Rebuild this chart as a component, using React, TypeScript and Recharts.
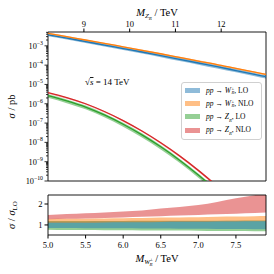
import React from 'react';
import { ComposedChart, Line, Area, XAxis, YAxis, ReferenceArea, Legend } from 'recharts';

// W_R mass grid (TeV)
const MW = [5.0, 5.25, 5.5, 5.75, 6.0, 6.25, 6.5, 6.75, 7.0, 7.25, 7.5, 7.75, 7.9];

// cross sections in pb
const W_LO = [3.72e-3, 2.51e-3, 1.66e-3, 1.1e-3, 7.24e-4, 4.79e-4, 3.09e-4, 2.0e-4, 1.29e-4, 8.32e-5, 5.25e-5, 3.31e-5, 2.51e-5];
const W_NLO = [4.47e-3, 3.02e-3, 2.0e-3, 1.35e-3, 8.91e-4, 5.89e-4, 3.89e-4, 2.51e-4, 1.62e-4, 1.07e-4, 6.76e-5, 4.37e-5, 3.31e-5];
const Z_LO = [2.63e-6, 1.41e-6, 6.76e-7, 2.63e-7, 8.71e-8, 2.45e-8, 5.89e-9, 1.2e-9, 2.04e-10, 3.02e-11, null, null, null];
const Z_NLO = [3.8e-6, 2.09e-6, 1.0e-6, 3.98e-7, 1.35e-7, 3.89e-8, 9.55e-9, 2.0e-9, 3.55e-10, 5.37e-11, null, null, null];

// uncertainty bands, relative to the LO central value
const W_LO_LOW = [0.85, 0.85, 0.84, 0.84, 0.84, 0.83, 0.83, 0.82, 0.82, 0.81, 0.81, 0.8, 0.8];
const W_LO_HIGH = [1.17, 1.17, 1.17, 1.18, 1.18, 1.18, 1.18, 1.19, 1.19, 1.19, 1.2, 1.2, 1.2];
const W_NLO_LOW = [1.1, 1.11, 1.11, 1.12, 1.13, 1.13, 1.14, 1.15, 1.15, 1.16, 1.17, 1.18, 1.18];
const W_NLO_HIGH = [1.28, 1.29, 1.3, 1.31, 1.32, 1.33, 1.35, 1.36, 1.37, 1.39, 1.4, 1.42, 1.43];
const Z_LO_LOW = [0.77, 0.76, 0.76, 0.75, 0.75, 0.74, 0.73, 0.73, 0.72, 0.71, 0.71, 0.7, 0.7];
const Z_LO_HIGH = [1.19, 1.19, 1.19, 1.19, 1.19, 1.2, 1.2, 1.2, 1.2, 1.2, 1.2, 1.21, 1.21];
const Z_NLO_LOW = [1.27, 1.29, 1.31, 1.33, 1.36, 1.39, 1.42, 1.45, 1.48, 1.51, 1.54, 1.57, 1.59];
const Z_NLO_HIGH = [1.48, 1.52, 1.56, 1.6, 1.64, 1.69, 1.78, 1.86, 1.95, 2.1, 2.28, 2.42, 2.55];

const MW_TICKS = [5.0, 5.5, 6.0, 6.5, 7.0, 7.5];
const MZ_TICKS = [9, 10, 11, 12];
const MZ_PER_MW = 1.643;
const RATIO_TICKS = [1, 2];
const DECADES = [-10, -9, -8, -7, -6, -5, -4, -3];

const X_DOMAIN = [5.0, 7.9];
const Y_DOMAIN = [1e-10, 5.2e-3];
const R_DOMAIN = [0.52, 2.43];

const BLUE = '#1f77b4';
const ORANGE = '#ff7f0e';
const GREEN = '#2ca02c';
const RED = '#d62728';
const FONT = '"Liberation Serif", "DejaVu Serif", serif';

const band = (c: number | null, lo: number, hi: number) => (c == null ? null : [c * lo, c * hi]);

const rows = MW.map((mw, i) => ({
  mw,
  wLo: W_LO[i],
  wNlo: W_NLO[i],
  zLo: Z_LO[i],
  zNlo: Z_NLO[i],
  wLoBand: band(W_LO[i], W_LO_LOW[i], W_LO_HIGH[i]),
  wNloBand: band(W_LO[i], W_NLO_LOW[i], W_NLO_HIGH[i]),
  zLoBand: band(Z_LO[i], Z_LO_LOW[i], Z_LO_HIGH[i]),
  zNloBand: band(Z_LO[i], Z_NLO_LOW[i], Z_NLO_HIGH[i]),
  rWLo: [W_LO_LOW[i], W_LO_HIGH[i]],
  rWNlo: [W_NLO_LOW[i], W_NLO_HIGH[i]],
  rZLo: [Z_LO_LOW[i], Z_LO_HIGH[i]],
  rZNlo: [Z_NLO_LOW[i], Z_NLO_HIGH[i]],
}));

// major + minor log ticks
const logTicks: number[] = [];
DECADES.forEach(e => {
  for (let k = 1; k <= 9; k++) {
    const v = k * Math.pow(10, e);
    if (v <= Y_DOMAIN[1]) logTicks.push(v);
  }
});

const LogTick = (props: any) => {
  const { x, y, payload } = props;
  const e = Math.log10(payload.value);
  const major = Math.abs(e - Math.round(e)) < 1e-6;
  return (
    <g>
      <line x1={x - (major ? 3.5 : 2)} x2={x} y1={y} y2={y} stroke="#000" strokeWidth={0.8} />
      {major && (
        <text x={x - 5} y={y + 3} textAnchor="end" fontSize={8.3} fontFamily={FONT} fill="#000">
          10
          <tspan dy={-4} fontSize={5.8}>−{-Math.round(e)}</tspan>
        </text>
      )}
    </g>
  );
};

const tickStyle = { fill: '#000', fontSize: 8.5, fontFamily: FONT };

const WSym = () => (
  <>
    <i>W</i>
    <span style={{ display: 'inline-flex', flexDirection: 'column', fontSize: '0.62em', lineHeight: 0.95, verticalAlign: 'middle', marginLeft: 0.5 }}>
      <span>±</span>
      <i>R</i>
    </span>
  </>
);
const ZSym = () => (
  <>
    <i>Z</i>
    <sub style={{ fontSize: '0.62em' }}><i>R</i></sub>
  </>
);

const LEGEND = [
  { color: BLUE, sym: <WSym />, order: 'LO' },
  { color: ORANGE, sym: <WSym />, order: 'NLO' },
  { color: GREEN, sym: <ZSym />, order: 'LO' },
  { color: RED, sym: <ZSym />, order: 'NLO' },
];

const LegendBox = () => (
  <div
    style={{
      width: 81,
      height: 58,
      boxSizing: 'border-box',
      border: '1px solid #d0d0d0',
      borderRadius: 3,
      background: 'rgba(255,255,255,0.8)',
      fontFamily: FONT,
      fontSize: 7.5,
      color: '#000',
      padding: '1px 0 0 3px',
    }}
  >
    {LEGEND.map((item, i) => (
      <div key={i} style={{ display: 'flex', alignItems: 'center', height: 13.2, whiteSpace: 'nowrap' }}>
        <span style={{ display: 'inline-block', width: 15, height: 5, background: item.color, opacity: 0.5, marginRight: 6 }} />
        <span>
          <i>pp</i> → {item.sym}, {item.order}
        </span>
      </div>
    ))}
  </div>
);

export default function App() {
  return (
    <div style={{ position: 'absolute', left: 0, top: 0, width: 274, height: 274, background: '#fff' }}>
      {/* cross sections */}
      <div style={{ position: 'absolute', left: 0, top: 0 }}>
        <ComposedChart width={274} height={274} data={rows} margin={{ top: 12, right: 8, bottom: 88, left: 0 }}>
          <XAxis
            dataKey="mw"
            type="number"
            domain={X_DOMAIN}
            ticks={MW_TICKS}
            allowDataOverflow
            axisLine={false}
            tick={false}
            tickSize={3.5}
            stroke="#000"
            height={5}
          />
          <XAxis
            xAxisId="top"
            orientation="top"
            dataKey="mw"
            type="number"
            domain={X_DOMAIN}
            ticks={MZ_TICKS.map(z => z / MZ_PER_MW)}
            tickFormatter={(v: number) => String(Math.round(v * MZ_PER_MW))}
            allowDataOverflow
            axisLine={false}
            tickSize={3.5}
            tickMargin={2}
            stroke="#000"
            tick={tickStyle}
            height={20}
          />
          <YAxis
            scale="log"
            type="number"
            domain={Y_DOMAIN}
            ticks={logTicks}
            allowDataOverflow
            axisLine={false}
            tickLine={false}
            tickSize={0}
            tickMargin={0}
            tick={<LogTick />}
            width={48}
            interval={0}
          />
          <Area dataKey="zLoBand" type="monotone" stroke="none" fill={GREEN} fillOpacity={0.5} isAnimationActive={false} />
          <Area dataKey="zNloBand" type="monotone" stroke="none" fill={RED} fillOpacity={0.35} isAnimationActive={false} />
          <Line dataKey="zLo" type="monotone" stroke={GREEN} strokeWidth={1.3} dot={false} isAnimationActive={false} />
          <Line dataKey="zNlo" type="monotone" stroke={RED} strokeWidth={1.3} dot={false} isAnimationActive={false} />
          <Area dataKey="wLoBand" type="monotone" stroke="none" fill={BLUE} fillOpacity={0.5} isAnimationActive={false} />
          <Area dataKey="wNloBand" type="monotone" stroke="none" fill={ORANGE} fillOpacity={0.5} isAnimationActive={false} />
          <Line dataKey="wLo" type="monotone" stroke={BLUE} strokeWidth={1.3} dot={false} isAnimationActive={false} />
          <Line dataKey="wNlo" type="monotone" stroke={ORANGE} strokeWidth={1.3} dot={false} isAnimationActive={false} />
          <Line xAxisId="top" dataKey="wLo" stroke="none" dot={false} legendType="none" isAnimationActive={false} />
          <ReferenceArea x1={X_DOMAIN[0]} x2={X_DOMAIN[1]} y1={Y_DOMAIN[0]} y2={Y_DOMAIN[1]} fill="none" stroke="#000" strokeWidth={0.9} ifOverflow="visible" />
          <Legend
            layout="vertical"
            align="center"
            verticalAlign="middle"
            content={() => <LegendBox />}
            wrapperStyle={{ left: 181, top: 82, width: 81, height: 58 }}
          />
        </ComposedChart>
      </div>

      {/* ratio panel */}
      <div style={{ position: 'absolute', left: 0, top: 0 }}>
        <ComposedChart width={274} height={274} data={rows} margin={{ top: 195, right: 8, bottom: 0, left: 0 }}>
          <XAxis
            dataKey="mw"
            type="number"
            domain={X_DOMAIN}
            ticks={MW_TICKS}
            tickFormatter={(v: number) => v.toFixed(1)}
            allowDataOverflow
            axisLine={false}
            tickSize={3.5}
            tickMargin={3}
            stroke="#000"
            tick={tickStyle}
            height={39}
          />
          <YAxis
            type="number"
            domain={R_DOMAIN}
            ticks={RATIO_TICKS}
            allowDataOverflow
            axisLine={false}
            tickSize={3.5}
            tickMargin={2}
            stroke="#000"
            tick={tickStyle}
            width={48}
          />
          <Area dataKey="rZLo" type="monotone" stroke="none" fill={GREEN} fillOpacity={0.5} isAnimationActive={false} />
          <Area dataKey="rWLo" type="monotone" stroke="none" fill={BLUE} fillOpacity={0.5} isAnimationActive={false} />
          <Area dataKey="rWNlo" type="monotone" stroke="none" fill={ORANGE} fillOpacity={0.5} isAnimationActive={false} />
          <Area dataKey="rZNlo" type="monotone" stroke="none" fill={RED} fillOpacity={0.5} isAnimationActive={false} />
          <ReferenceArea x1={X_DOMAIN[0]} x2={X_DOMAIN[1]} y1={R_DOMAIN[0]} y2={R_DOMAIN[1]} fill="none" stroke="#000" strokeWidth={0.9} ifOverflow="visible" />
        </ComposedChart>
      </div>

      {/* axis titles and annotation */}
      <svg width={274} height={274} style={{ position: 'absolute', left: 0, top: 0, pointerEvents: 'none' }} fontFamily={FONT}>
        <text x={157} y={16} textAnchor="middle" fontSize={10.5} fill="#000">
          <tspan fontStyle="italic">M</tspan>
          <tspan fontStyle="italic" fontSize={7} dy={2}>Z</tspan>
          <tspan fontStyle="italic" fontSize={5} dy={1.5}>R</tspan>
          <tspan dy={-3.5}> / TeV</tspan>
        </text>
        <text x={157} y={262} textAnchor="middle" fontSize={10.5} fill="#000">
          <tspan fontStyle="italic">M</tspan>
          <tspan fontStyle="italic" fontSize={7} dy={2}>W</tspan>
          <tspan fontSize={5} dy={-3}>±</tspan>
          <tspan fontStyle="italic" fontSize={5} dx={-3.2} dy={5}>R</tspan>
          <tspan dy={-4}> / TeV</tspan>
        </text>
        <text transform="translate(15,106.5) rotate(-90)" textAnchor="middle" fontSize={10.5} fill="#000">
          <tspan fontStyle="italic">σ</tspan> / pb
        </text>
        <text transform="translate(15,215) rotate(-90)" textAnchor="middle" fontSize={10.5} fill="#000">
          <tspan fontStyle="italic">σ</tspan> / <tspan fontStyle="italic">σ</tspan>
          <tspan fontSize={7} dy={2}>LO</tspan>
        </text>
        <text x={85} y={85} fontSize={9} fill="#000">
          √<tspan fontStyle="italic" textDecoration="overline">s</tspan> = 14 TeV
        </text>
      </svg>
    </div>
  );
}
